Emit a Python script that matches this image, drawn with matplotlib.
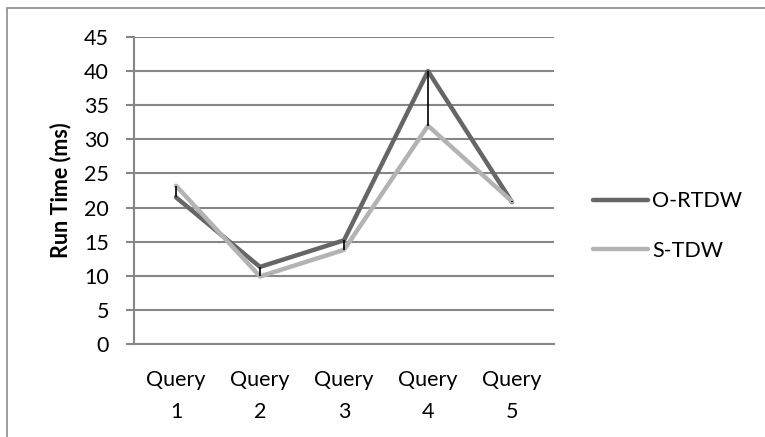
import matplotlib
matplotlib.use('Agg')
import matplotlib.pyplot as plt
from matplotlib.patches import Rectangle
import numpy as np

CATEGORIES = ['Query\n1', 'Query\n2', 'Query\n3', 'Query\n4', 'Query\n5']
O_RTDW = [21.5, 11.3, 15.2, 40.0, 20.8]
S_TDW = [23.2, 9.9, 13.8, 32.0, 20.9]
SERIES_NAMES = ['O-RTDW', 'S-TDW']

plt.rcParams['font.family'] = ['Lato', 'DejaVu Sans']
FS = 15.5

fig = plt.figure(figsize=(7.65, 4.37), dpi=100)
fig.patches.append(Rectangle((7 / 765, -0.1), 2, 1.1 - 8 / 437, transform=fig.transFigure,
                             fill=False, edgecolor='#8c8c8c', linewidth=1.2))

ax = fig.add_axes([134 / 765, 1 - 344 / 437, 420 / 765, 307 / 437])

x = np.arange(len(CATEGORIES))
ax.plot(x, O_RTDW, color='#666666', linewidth=3.2, solid_capstyle='round',
        solid_joinstyle='round', label=SERIES_NAMES[0], zorder=3)
ax.plot(x, S_TDW, color='#b3b3b3', linewidth=3.2, solid_capstyle='round',
        solid_joinstyle='round', label=SERIES_NAMES[1], zorder=4)
ax.vlines(x, np.minimum(O_RTDW, S_TDW), np.maximum(O_RTDW, S_TDW),
          color='black', linewidth=1.2, zorder=5)

ax.set_xlim(-0.5, len(CATEGORIES) - 0.5)
ax.set_ylim(0, 45)
ax.set_yticks(range(0, 46, 5))
ax.set_xticks(x)
ax.set_xticklabels(CATEGORIES, fontsize=FS, linespacing=1.7)
ax.tick_params(axis='y', labelsize=FS, length=6, width=1.5, color='#868686', pad=12)
ax.tick_params(axis='x', length=0, pad=19)
ax.grid(axis='y', color='#868686', linewidth=1.5)
ax.set_axisbelow(True)
for s in ['top', 'right']:
    ax.spines[s].set_visible(False)
ax.spines['left'].set_color('#868686')
ax.spines['left'].set_linewidth(1.5)
ax.spines['bottom'].set_color('#868686')
ax.spines['bottom'].set_linewidth(1.5)
ax.set_ylabel('Run Time (ms)', fontsize=FS, fontweight='bold', labelpad=9)

ax.legend(loc='center left', bbox_to_anchor=(593 / 765, 1 - 226 / 437),
          bbox_transform=fig.transFigure, frameon=False, fontsize=FS,
          borderaxespad=0, borderpad=0,
          handlelength=2.55, handletextpad=0.2, labelspacing=1.35)

fig.savefig('out.png', dpi=100)
